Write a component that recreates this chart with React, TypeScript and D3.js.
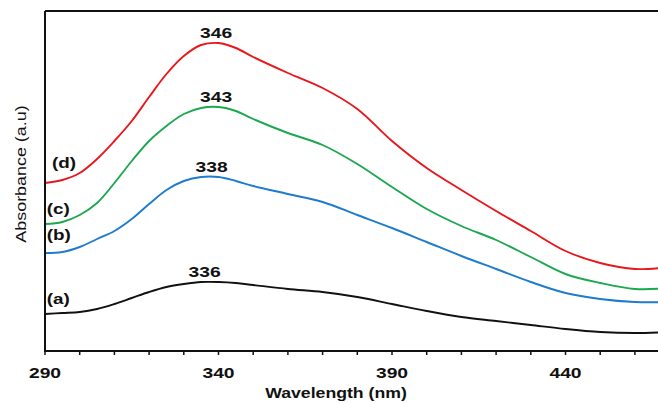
import React from 'react';
import * as d3 from 'd3';

// wavelength grid (nm) and absorbance
const wavelengths = [290, 295, 300, 305, 310, 315, 320, 325, 330, 335, 340, 345, 350, 360, 370, 380, 390, 400, 410, 420, 430, 440, 450, 460, 470];
const seriesA = [0.185, 0.19, 0.195, 0.21, 0.235, 0.265, 0.295, 0.32, 0.335, 0.345, 0.345, 0.34, 0.33, 0.31, 0.295, 0.27, 0.235, 0.2, 0.17, 0.15, 0.13, 0.11, 0.095, 0.09, 0.095];
const seriesB = [0.49, 0.495, 0.52, 0.56, 0.6, 0.66, 0.735, 0.805, 0.85, 0.87, 0.87, 0.85, 0.825, 0.785, 0.745, 0.68, 0.615, 0.545, 0.475, 0.41, 0.345, 0.29, 0.26, 0.245, 0.245];
const seriesC = [0.635, 0.645, 0.68, 0.74, 0.84, 0.95, 1.05, 1.125, 1.185, 1.215, 1.22, 1.2, 1.16, 1.09, 1.03, 0.935, 0.82, 0.71, 0.625, 0.555, 0.47, 0.385, 0.34, 0.31, 0.315];
const seriesD = [0.84, 0.855, 0.89, 0.96, 1.05, 1.15, 1.27, 1.385, 1.475, 1.53, 1.54, 1.515, 1.47, 1.39, 1.315, 1.21, 1.05, 0.915, 0.805, 0.7, 0.6, 0.5, 0.44, 0.41, 0.42];

const seriesTags = ['(a)', '(b)', '(c)', '(d)'];
const seriesColors = ['#111111', '#1f7bcc', '#1ba84f', '#e8171c'];
const tagX = [290.5, 290.5, 290.5, 292];
const tagY = [0.235, 0.555, 0.685, 0.915];
const peakLabels = ['336', '338', '343', '346'];
const peakLabelX = [336, 338, 339.3, 339.3];
const xTickLabels = [290, 340, 390, 440];

const W = 658;
const H = 403;
const margin = { left: 45, top: 11, bottom: 52 };

// the original lettering is wide, so text is stretched horizontally
function Wide({ x, y, sx = 1.33, anchor = 'middle', size = 14.5, bold = true, children }: any) {
  return (
    <text transform={`translate(${x},${y}) scale(${sx},1)`} textAnchor={anchor} fontSize={size}
      fontWeight={bold ? 'bold' : 'normal'} fill="#111">{children}</text>
  );
}

export default function App() {
  const x = d3.scaleLinear().domain([290, 470]).range([margin.left, margin.left + 180 * 3.47]);
  const y = d3.scaleLinear().domain([0, 1.7]).range([H - margin.bottom, margin.top]);
  const bottom = H - margin.bottom;

  const all = [seriesA, seriesB, seriesC, seriesD];
  const line = d3.line<number>()
    .x((_, i) => x(wavelengths[i]))
    .y((d) => y(d))
    .curve(d3.curveCatmullRom.alpha(0.5));

  const minorTicks = d3.range(290, 471, 10);
  const font = 'Arial, "Liberation Sans", sans-serif';
  const peakIdx = wavelengths.indexOf(340);

  return (
    <svg width={W} height={H} style={{ position: 'absolute', left: 0, top: 0, background: '#fff' }} fontFamily={font}>
      <defs>
        <clipPath id="plot">
          <rect x={margin.left} y={0} width={W - margin.left} height={bottom} />
        </clipPath>
      </defs>

      <g clipPath="url(#plot)">
        {all.map((s, i) => (
          <path key={i} d={line(s) || ''} fill="none" stroke={seriesColors[i]} strokeWidth={1.9} />
        ))}
      </g>

      {/* frame */}
      <line x1={margin.left} x2={W} y1={margin.top} y2={margin.top} stroke="#111" strokeWidth={2} />
      <line x1={margin.left} x2={margin.left} y1={margin.top} y2={bottom + 1} stroke="#111" strokeWidth={2} />
      <line x1={margin.left} x2={W} y1={bottom} y2={bottom} stroke="#111" strokeWidth={2} />

      {minorTicks.filter((t) => x(t) <= W).map((t) => (
        <line key={t} x1={x(t)} x2={x(t)} y1={bottom} y2={bottom + 4} stroke="#111" strokeWidth={1.5} />
      ))}
      {xTickLabels.map((t) => (
        <Wide key={t} x={x(t)} y={bottom + 27}>{t}</Wide>
      ))}

      <Wide x={336} y={398} sx={1.22}>Wavelength (nm)</Wide>
      <g transform="translate(26,174) rotate(-90)">
        <Wide x={0} y={0} sx={1.28} size={14} bold={false}>Absorbance (a.u)</Wide>
      </g>

      {all.map((s, i) => (
        <Wide key={'p' + i} x={x(peakLabelX[i])} y={y(s[peakIdx]) - 5}>{peakLabels[i]}</Wide>
      ))}

      {seriesTags.map((t, i) => (
        <Wide key={t} x={x(tagX[i])} y={y(tagY[i])} anchor="start" sx={1.3}>{t}</Wide>
      ))}
    </svg>
  );
}
